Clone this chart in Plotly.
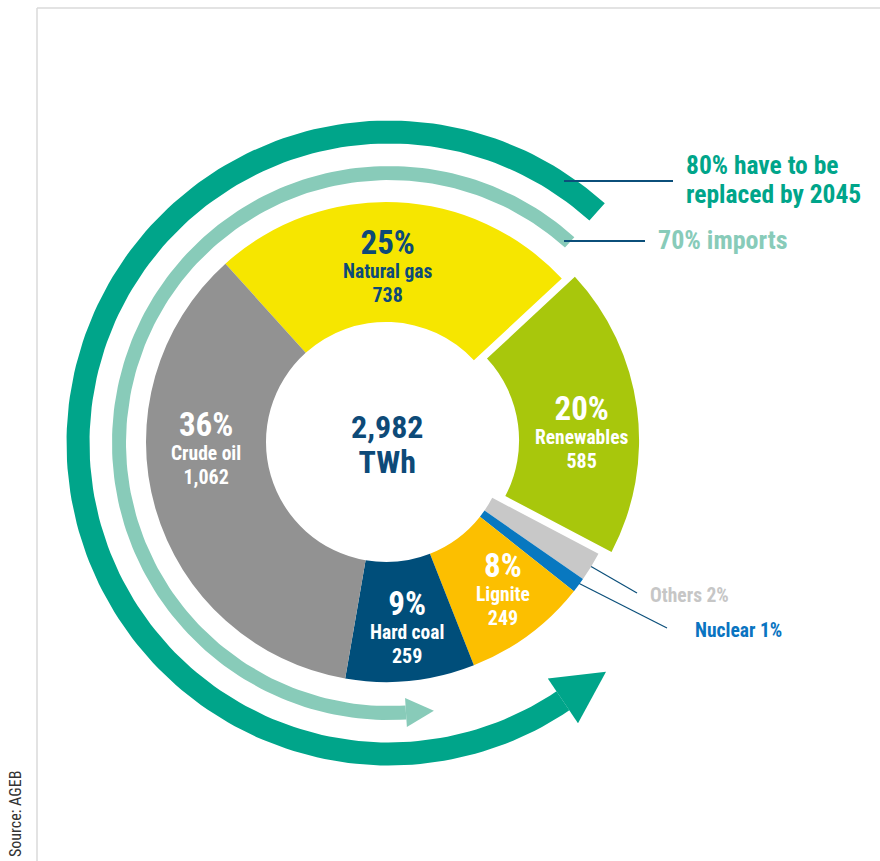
import math
import plotly.graph_objects as go

# Primary energy consumption by energy source (TWh)
sources = ["Natural gas", "Renewables", "Others", "Nuclear", "Lignite", "Hard coal", "Crude oil"]
twh = [738, 585, 59, 30, 249, 259, 1062]
total_twh = 2982
total_unit = "TWh"

replace_text = ["80% have to be", "replaced by 2045"]
imports_text = "70% imports"
source_note = "Source: AGEB"

# ---- styling -------------------------------------------------------------
W, H = 880, 861
CX, CY, R = 386, 442, 240          # donut centre and outer radius (px)
HOLE = 0.5
ROTATION = -42
pulls = [0, 0.055, 0, 0, 0, 0, 0]
slice_colors = ["#f6e600", "#a8c70c", "#c8c8c8", "#0878c0", "#fcbf00", "#004e7a", "#929292"]

TEAL = "#00a58a"
LIGHT_TEAL = "#88cbb9"
NAVY = "#0d4a78"
LEADER = "#0b4f7a"
FONT = "Noto Sans Condensed, Liberation Sans Narrow, Roboto Condensed, Liberation Sans, sans-serif"

# label anchors (x, y of the block centre) for the large slices
label_anchor = {
    "Natural gas": (387, 265, NAVY),
    "Renewables": (581, 431, "white"),
    "Lignite": (503, 588, "white"),
    "Hard coal": (407, 626, "white"),
    "Crude oil": (206, 447, "white"),
}


def polar(theta_deg, r, cx, cy):
    t = math.radians(theta_deg)
    return cx + r * math.sin(t), cy - r * math.cos(t)


def fmt_num(v):
    return f"{v:,}"


def sized(text, px):
    return f'<span style="font-size:{px}px">{text}</span>'


fig = go.Figure()

# ---- donut ---------------------------------------------------------------
max_pull = max(pulls)
half = R * (1 + max_pull)
fig.add_trace(go.Pie(
    labels=sources,
    values=twh,
    sort=False,
    direction="clockwise",
    rotation=ROTATION,
    hole=HOLE,
    pull=pulls,
    marker=dict(colors=slice_colors, line=dict(width=0)),
    textinfo="none",
    hoverinfo="label+value+percent",
    showlegend=False,
    domain=dict(x=[(CX - half) / W, (CX + half) / W],
                y=[(H - CY - half) / H, (H - CY + half) / H]),
))

# slice mid-angles derived from the data
mid_angle = {}
acc = 0
for name, v in zip(sources, twh):
    mid_angle[name] = ROTATION + 360 * (acc + v / 2) / total_twh
    acc += v

annotations = []


def add_text(x, y, text, size, color, xanchor="center", bold=True, family=FONT, **kw):
    annotations.append(dict(
        x=x, y=y, xref="x", yref="y", text=f"<b>{text}</b>" if bold else text,
        showarrow=False, xanchor=xanchor, yanchor="middle",
        font=dict(family=family, size=size, color=color), **kw))


# slice labels: share, name and value in one block (line pitch from the base size)
for name, v in zip(sources, twh):
    if name not in label_anchor:
        continue
    x, y, col = label_anchor[name]
    pct = round(100 * v / total_twh)
    block = "<br>".join([sized(f"{pct}%", 33), sized(name, 19.5), sized(fmt_num(v), 20)])
    add_text(x, y, block, 18.5, col)

# centre total
add_text(CX + 1, CY + 2, "<br>".join([sized(fmt_num(total_twh), 32), sized(total_unit, 32)]), 27, NAVY)

# ---- decorative arrows round the donut ------------------------------------
ACX, ACY = 389, 443


def arc_arrow(r_mid, width, theta_start, theta_end, head_half, head_len, color):
    n = 180
    r_out, r_in = r_mid + width / 2, r_mid - width / 2
    thetas = [theta_start + (theta_end - theta_start) * i / n for i in range(n + 1)]
    outer = [polar(t, r_out, ACX, ACY) for t in thetas]
    inner = [polar(t, r_in, ACX, ACY) for t in reversed(thetas)]
    pts = outer + inner + [outer[0]]
    fig.add_trace(go.Scatter(
        x=[p[0] for p in pts], y=[p[1] for p in pts], mode="lines",
        fill="toself", fillcolor=color, line=dict(width=0, color=color),
        hoverinfo="skip", showlegend=False))
    # arrow head at the end, pointing along the direction of travel
    t = math.radians(theta_end)
    bx, by = polar(theta_end, r_mid, ACX, ACY)
    radial = (math.sin(t), -math.cos(t))
    tangent = (-math.cos(t), -math.sin(t)) if theta_end < theta_start else (math.cos(t), math.sin(t))
    p1 = (bx + head_half * radial[0], by + head_half * radial[1])
    p2 = (bx - head_half * radial[0], by - head_half * radial[1])
    tip = (bx + head_len * tangent[0], by + head_len * tangent[1])
    tri = [p1, tip, p2, p1]
    fig.add_trace(go.Scatter(
        x=[p[0] for p in tri], y=[p[1] for p in tri], mode="lines",
        fill="toself", fillcolor=color, line=dict(width=0, color=color),
        hoverinfo="skip", showlegend=False))


arc_arrow(311, 23, 42, 146 - 360, 27, 52, TEAL)
arc_arrow(270, 14, 42, 176.4 - 360, 14.5, 28, LIGHT_TEAL)

# ---- leader lines and callouts --------------------------------------------
def leader(x0, y0, x1, y1, width):
    fig.add_trace(go.Scatter(x=[x0, x1], y=[y0, y1], mode="lines",
                             line=dict(color=LEADER, width=width),
                             hoverinfo="skip", showlegend=False))


leader(564, 181, 673, 181, 2.2)
leader(564, 241, 645, 241, 2.2)
add_text(684, 179, "<br>".join(sized(t, 25.5) for t in replace_text), 22, TEAL,
         xanchor="left", align="left")
add_text(656, 240, imports_text, 26, LIGHT_TEAL, xanchor="left")

small = {"Others": ((637, 593), (648, 595), "#c6c6c6", 0.985),
         "Nuclear": ((667, 628), (693, 630), "#0a74c1", 0.955)}
for name, v in zip(sources, twh):
    if name not in small:
        continue
    end, txt_pos, col, rf = small[name]
    sx, sy = polar(mid_angle[name], R * rf, CX, CY)
    leader(sx, sy, end[0], end[1], 1.2)
    pct = round(100 * v / total_twh)
    add_text(txt_pos[0], txt_pos[1], f"{name} {pct}%", 19.5, col, xanchor="left")

# source note
add_text(15, 814, source_note, 16, "#333333", bold=False, textangle=-90)

# ---- frame ---------------------------------------------------------------
shapes = [
    dict(type="line", xref="x", yref="y", x0=37, y0=8, x1=W, y1=8,
         line=dict(color="#dadada", width=1.5)),
    dict(type="line", xref="x", yref="y", x0=37, y0=8, x1=37, y1=H,
         line=dict(color="#dadada", width=1.5)),
]

fig.update_layout(
    width=W, height=H,
    margin=dict(l=0, r=0, t=0, b=0),
    paper_bgcolor="white", plot_bgcolor="white",
    xaxis=dict(range=[0, W], visible=False, fixedrange=True, domain=[0, 1]),
    yaxis=dict(range=[H, 0], visible=False, fixedrange=True, domain=[0, 1]),
    annotations=annotations,
    shapes=shapes,
    showlegend=False,
)

fig.write_html("out.html")
